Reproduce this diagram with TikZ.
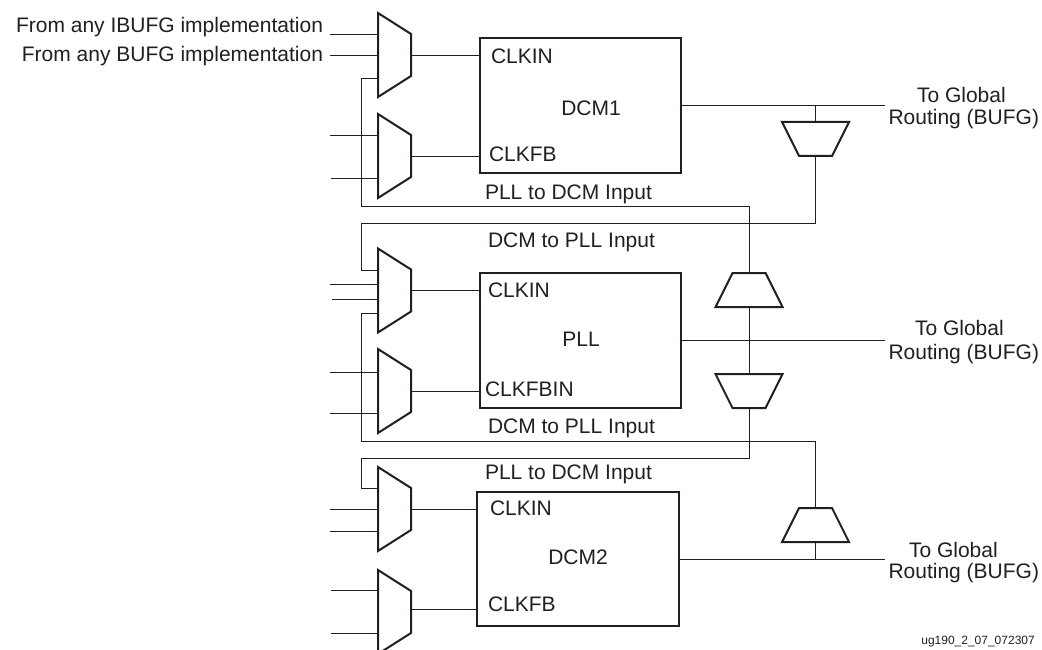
\documentclass[tikz,border=0pt]{standalone}
\usepackage{fontspec}
\setmainfont{Liberation Sans}
\definecolor{ink}{HTML}{231F20}
\tikzset{
  x=1pt,y=-1pt,
  wire/.style={draw=ink,line width=0.95pt},
  heavy/.style={draw=ink,line width=2pt,line join=miter},
  blockbox/.style={heavy,fill=white,minimum width=201pt,minimum height=135pt,inner sep=0pt,outer sep=0pt},
  muxframe/.style={minimum width=33pt,minimum height=84pt,inner sep=0pt,outer sep=0pt},
  dropframe/.style={minimum width=67pt,minimum height=34pt,inner sep=0pt,outer sep=0pt},
  lbl/.style={inner sep=0pt,outer sep=0pt,text=ink,font=\fontsize{21pt}{24pt}\selectfont,anchor=base west},
  ctr/.style={lbl,anchor=base},
  rgt/.style={lbl,anchor=base east},
  tiny/.style={inner sep=0pt,text=ink,font=\fontsize{12pt}{14pt}\selectfont,anchor=base east},
}
\newcommand{\muxshape}[1]{\draw[heavy] (#1.north west) -- ([yshift=-21pt]#1.north east) -- ([yshift=21pt]#1.south east) -- (#1.south west) -- cycle;}
\newcommand{\narrowtop}[1]{\draw[heavy] (#1.south west) -- ([xshift=17pt]#1.north west) -- ([xshift=-17pt]#1.north east) -- (#1.south east) -- cycle;}
\newcommand{\narrowbottom}[1]{\draw[heavy] (#1.north west) -- ([xshift=17pt]#1.south west) -- ([xshift=-17pt]#1.south east) -- (#1.north east) -- cycle;}
\begin{document}
\begin{tikzpicture}
\clip (0,0) rectangle (1042,650);
\fill[white] (0,0) rectangle (1042,650);

\node[blockbox] (dcmA) at (580.5,105.5) {};
\node[blockbox] (pll) at (580.5,340.5) {};
\node[blockbox,minimum width=202pt,minimum height=134pt] (dcmB) at (578,559) {};

\node[muxframe] (m1) at (394.5,55) {};
\node[muxframe] (m2) at (394.5,156) {};
\node[muxframe] (m3) at (394.5,290.5) {};
\node[muxframe] (m4) at (394.5,391) {};
\node[muxframe] (m5) at (394.5,509) {};
\node[muxframe] (m6) at (394.5,612) {};
\foreach \m in {m1,m2,m3,m4,m5,m6} {\muxshape{\m}}

\node[dropframe] (xa) at (815.5,139) {};
\node[dropframe] (xb) at (749,290) {};
\node[dropframe] (xc) at (749,391) {};
\node[dropframe] (xd) at (815.5,525) {};
\narrowbottom{xa}
\narrowtop{xb}
\narrowbottom{xc}
\narrowtop{xd}

\coordinate (a1) at (330,34.5);
\coordinate (a2) at (330,55.5);
\coordinate (b1) at (330,135.5);
\coordinate (b2) at (331,178.5);
\coordinate (c1) at (330,284.5);
\coordinate (c2) at (332,299.5);
\coordinate (d1) at (330,372.5);
\coordinate (d2) at (330,413.5);
\coordinate (e1) at (330,509.5);
\coordinate (e2) at (330,531.5);
\coordinate (f1) at (331,590.5);
\coordinate (f2) at (331,633.5);
\foreach \p/\m in {a1/m1,a2/m1,b1/m2,b2/m2,c1/m3,c2/m3,d1/m4,d2/m4,e1/m5,e2/m5,f1/m6,f2/m6}
  {\draw[wire] (\p) -- (\p -| \m.west);}

\coordinate (inA) at (411,55.5);
\coordinate (fbA) at (411,156.5);
\coordinate (inP) at (411,290.5);
\coordinate (fbP) at (411,391.5);
\coordinate (inB) at (411,509.5);
\coordinate (fbB) at (411,609.5);
\draw[wire] (inA) -- (inA -| dcmA.west);
\draw[wire] (fbA) -- (fbA -| dcmA.west);
\draw[wire] (inP) -- (inP -| pll.west);
\draw[wire] (fbP) -- (fbP -| pll.west);
\draw[wire] (inB) -- (inB -| dcmB.west);
\draw[wire] (fbB) -- (fbB -| dcmB.west);

\coordinate (outA) at (885,105.5);
\coordinate (outP) at (885,340.5);
\coordinate (outB) at (885,559.5);
\draw[wire] (dcmA.east |- outA) -- (outA);
\draw[wire] (pll.east |- outP) -- (outP);
\draw[wire] (dcmB.east |- outB) -- (outB);

\coordinate (busL) at (361.5,206.5);
\coordinate (t1) at (378,78.5);
\draw[wire] (t1) -- (t1 -| busL) -- (busL) -- (busL -| xb.north) -- (xb.north);

\coordinate (t2) at (361.5,223.5);
\coordinate (t3) at (378,270.5);
\draw[wire] (xa.north |- outA) -- (xa.north);
\draw[wire] (xa.south) -- (xa.south |- t2) -- (t2) -- (t2 |- t3) -- (t3);

\coordinate (t4) at (378,313.5);
\coordinate (t5) at (361.5,441.5);
\draw[wire] (t4) -- (t4 -| t5) -- (t5) -- (t5 -| xd.north) -- (xd.north);
\draw[wire] (xd.south) -- (xd.south |- outB);

\coordinate (t6) at (361.5,458.5);
\coordinate (t7) at (378,488.5);
\draw[wire] (xb.south) -- (xc.north);
\draw[wire] (xc.south) -- (xc.south |- t6) -- (t6) -- (t6 |- t7) -- (t7);

\node[rgt] (tA) at (323,33) {From any IBUFG implementation};
\node[rgt] (tB) at (323,62) {From any BUFG implementation};
\node[lbl] (tC) at (491,64) {CLKIN};
\node[ctr] (tD) at (591,116) {DCM1};
\node[lbl] (tE) at (489,162) {CLKFB};
\node[lbl] (tF) at (485,200) {PLL to DCM Input};
\node[lbl] (tG) at (488,247) {DCM to PLL Input};
\node[lbl] (tH) at (488,297) {CLKIN};
\node[ctr] (tI) at (581,346) {PLL};
\node[lbl] (tJ) at (485,396) {CLKFBIN};
\node[lbl] (tK) at (488,433) {DCM to PLL Input};
\node[lbl] (tL) at (485,479) {PLL to DCM Input};
\node[lbl] (tM) at (490,515) {CLKIN};
\node[ctr] (tN) at (578,564) {DCM2};
\node[lbl] (tO) at (488,611) {CLKFB};
\node[lbl] (tP) at (917,102.5) {To Global};
\node[lbl] (tQ) at (888.5,125) {Routing (BUFG)};
\node[lbl] (tR) at (915,335.5) {To Global};
\node[lbl] (tS) at (888.5,359) {Routing (BUFG)};
\node[lbl] (tT) at (909,557.5) {To Global};
\node[lbl] (tU) at (888.5,578) {Routing (BUFG)};
\node[tiny] (tV) at (1035,644) {ug190\_2\_07\_072307};
\end{tikzpicture}
\end{document}
